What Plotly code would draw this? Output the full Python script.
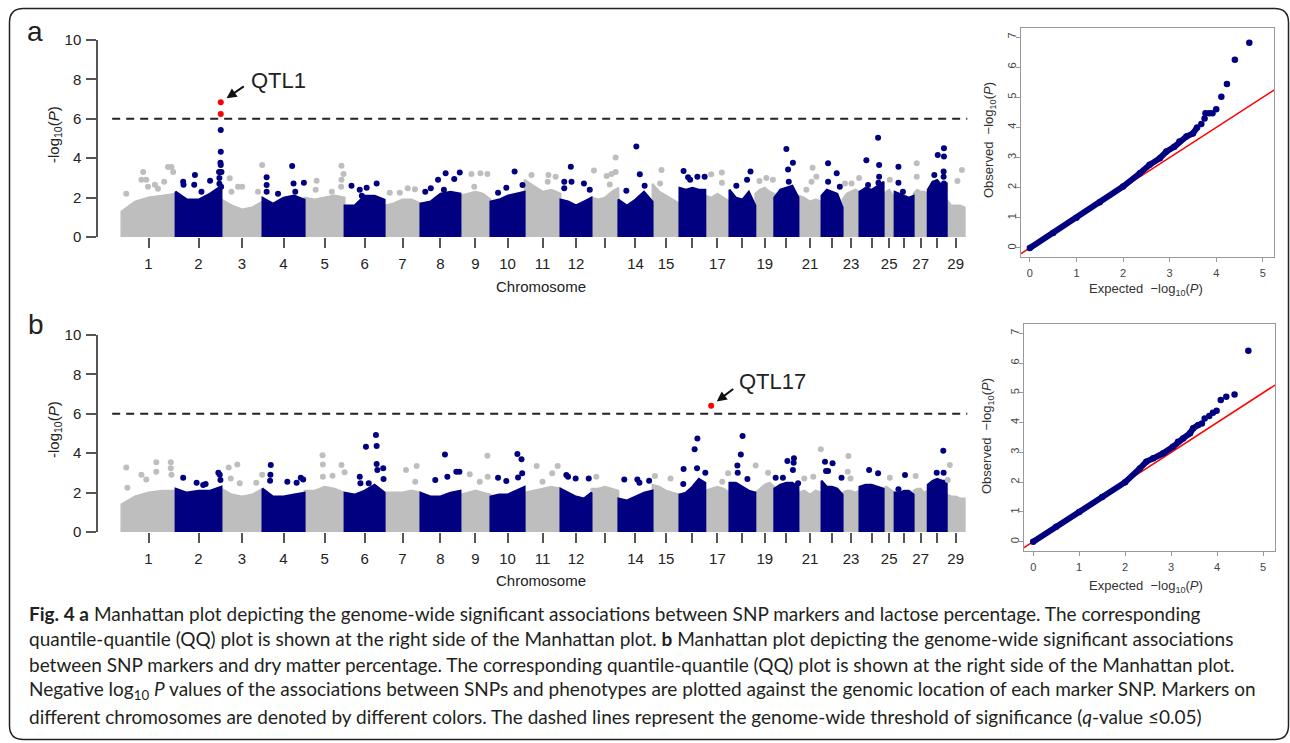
import plotly.graph_objects as go

W, H = 1290, 743
def fx(p): return p / W
def fy(p): return 1 - p / H

FONT = "Liberation Sans, Arial, sans-serif"
NAVY, GRAY, RED = "#000080", "#bebebe", "#ff0000"

# ---------------- data ----------------
chromosomes = list(range(1, 30))
chr_len = [157, 133, 119, 122, 116, 116, 104, 116, 87, 99, 104, 90, 78, 99, 78,
           75, 70, 75, 55, 70, 67, 61, 49, 70, 32, 55, 41, 55, 52]  # Mb
shown_labels = [1, 2, 3, 4, 5, 6, 7, 8, 9, 10, 11, 12, 14, 15, 17, 19, 21, 23, 25, 27, 29]
THRESHOLD = 6

# dense SNP cloud: upper envelope of -log10(P) at 5 evenly spaced points per chromosome
A_env = [[1.3, 1.8, 2.0, 2.1, 2.2], [2.3, 1.9, 1.9, 2.2, 2.6], [1.9, 1.6, 1.4, 1.5, 1.8],
         [2.0, 1.7, 2.0, 2.1, 1.9], [2.0, 1.9, 2.0, 2.1, 2.0], [1.6, 1.6, 2.1, 2.1, 1.9],
         [1.6, 1.7, 1.9, 1.9, 1.7], [1.7, 1.8, 2.2, 2.3, 2.2], [2.1, 2.2, 2.3, 2.2, 1.9],
         [1.8, 1.9, 2.1, 2.2, 2.3], [2.9, 2.6, 2.3, 2.4, 2.2], [1.9, 1.8, 1.6, 1.8, 2.0],
         [2.0, 1.9, 2.0, 2.3, 2.5], [1.9, 1.6, 1.9, 2.3, 1.8], [2.7, 2.3, 2.1, 1.9, 1.7],
         [2.5, 2.4, 2.5, 2.4, 2.4], [2.1, 2.0, 2.2, 2.0, 1.8], [2.4, 2.0, 1.9, 2.3, 1.6],
         [2.2, 2.4, 2.5, 2.3, 2.2], [2.0, 2.4, 2.5, 2.6, 2.0], [2.1, 2.0, 1.8, 1.9, 1.8],
         [2.1, 2.4, 2.3, 2.2, 1.5], [1.9, 2.2, 2.3, 2.4, 2.3], [2.3, 2.5, 2.4, 2.6, 2.8],
         [2.1, 2.3, 2.4, 2.2, 2.0], [2.3, 2.2, 2.1, 2.0, 2.1], [2.2, 2.4, 2.3, 2.3, 2.2],
         [2.4, 2.8, 2.9, 2.6, 2.7], [1.9, 1.6, 1.6, 1.6, 1.5]]
B_env = [[1.4, 1.8, 2.0, 2.1, 2.1], [2.2, 2.0, 2.1, 2.1, 2.3], [2.2, 1.9, 1.8, 1.9, 2.2],
         [2.2, 1.8, 1.8, 1.9, 2.0], [2.1, 2.1, 2.3, 2.2, 2.0], [2.0, 1.9, 2.1, 2.4, 2.0],
         [2.0, 2.0, 2.0, 2.1, 2.0], [2.0, 1.8, 1.8, 2.0, 2.1], [1.9, 2.0, 2.1, 2.0, 1.9],
         [1.8, 1.9, 1.9, 2.1, 2.3], [2.0, 2.1, 2.2, 2.3, 2.2], [2.2, 2.0, 1.8, 1.7, 2.0],
         [2.2, 2.2, 2.3, 2.2, 2.1], [1.7, 1.6, 1.8, 2.0, 2.1], [2.4, 2.3, 2.1, 2.0, 1.9],
         [1.9, 2.0, 2.3, 2.7, 2.5], [2.1, 2.2, 2.3, 2.2, 2.0], [2.5, 2.5, 2.3, 2.1, 2.0],
         [2.0, 2.2, 2.4, 2.5, 2.3], [2.2, 2.4, 2.5, 2.5, 2.3], [2.0, 2.1, 1.9, 2.1, 2.0],
         [2.6, 2.3, 2.3, 2.2, 1.9], [2.0, 2.1, 2.1, 2.0, 2.1], [2.3, 2.4, 2.4, 2.3, 2.2],
         [2.2, 2.3, 2.2, 2.1, 2.0], [2.0, 2.0, 2.1, 2.1, 1.9], [2.1, 2.2, 2.2, 2.0, 2.1],
         [2.4, 2.6, 2.7, 2.6, 2.6], [1.9, 1.8, 1.8, 1.7, 1.7]]

# individual SNPs above the cloud: (chromosome, position Mb, -log10 P)
A_hits = [(1, 14, 2.2), (1, 58, 2.9), (1, 63, 3.3), (1, 72, 2.9), (1, 77, 2.55), (1, 97, 2.65), (1, 106, 2.45),
          (1, 124, 2.8), (1, 135, 3.55), (1, 145, 3.55), (1, 150, 3.3),
          (2, 22, 2.8), (2, 23, 2.65), (2, 54, 2.65), (2, 56, 3.15), (2, 75, 2.3), (2, 100, 2.85), (2, 127, 2.7),
          (2, 129, 3.3), (2, 131, 5.43), (2, 131, 4.33), (2, 130, 3.77), (2, 131, 3.65), (2, 133, 3.3),
          (2, 126, 3.3), (2, 127, 3.0), (2, 132, 2.55),
          (3, 24, 2.98), (3, 29, 2.3), (3, 48, 2.55), (3, 60, 2.55), (3, 106, 2.3), (3, 118, 3.65),
          (4, 12, 3.03), (4, 12, 2.64), (4, 12, 2.3), (4, 45, 2.2), (4, 86, 3.6), (4, 90, 2.72), (4, 95, 2.3), (4, 120, 2.76),
          (5, 32, 2.4), (5, 35, 2.86), (5, 79, 2.3), (5, 106, 2.55), (5, 107, 2.9), (5, 107, 3.62), (5, 113, 3.2),
          (6, 20, 2.6), (6, 44, 2.4), (6, 50, 2.1), (6, 64, 2.5), (6, 93, 2.72),
          (7, 15, 2.25), (7, 44, 2.25), (7, 67, 2.47), (7, 88, 2.42),
          (8, 14, 2.3), (8, 30, 2.47), (8, 51, 2.9), (8, 68, 2.4), (8, 73, 3.23), (8, 98, 2.94), (8, 114, 3.28),
          (9, 32, 3.2), (9, 40, 2.55), (9, 58, 3.23), (9, 78, 3.2),
          (10, 22, 2.25), (10, 46, 2.5), (10, 70, 3.32), (10, 93, 2.64),
          (11, 20, 3.15), (11, 67, 2.8), (11, 69, 3.15), (11, 90, 3.06),
          (12, 11, 2.8), (12, 11, 2.47), (12, 30, 3.57), (12, 32, 2.8), (12, 68, 2.72), (12, 85, 2.4),
          (13, 7, 3.37), (13, 44, 3.1), (13, 53, 2.67), (13, 58, 3.2), (13, 70, 3.3), (13, 70, 4.03),
          (14, 23, 2.35), (14, 52, 4.59), (14, 62, 3.18), (14, 76, 2.6),
          (15, 22, 2.72), (15, 26, 3.4),
          (16, 12, 3.35), (16, 25, 3.03), (16, 31, 2.9), (16, 52, 3.06), (16, 73, 3.06),
          (17, 17, 3.18), (17, 48, 3.27), (17, 48, 2.76),
          (18, 20, 2.6), (18, 51, 2.9), (18, 61, 3.32),
          (19, 12, 2.84), (19, 32, 3.0), (19, 51, 2.9),
          (20, 35, 4.47), (20, 40, 3.43), (20, 42, 2.8), (20, 54, 3.77),
          (21, 23, 2.4), (21, 41, 3.52), (21, 38, 2.8), (21, 52, 3.06),
          (22, 19, 3.74), (22, 19, 2.8), (22, 44, 3.23), (22, 53, 2.55),
          (23, 7, 2.72), (23, 26, 2.72), (23, 48, 3.0),
          (24, 20, 3.9), (24, 25, 2.64), (24, 54, 5.04), (24, 57, 3.65), (24, 57, 3.06), (24, 55, 2.76),
          (25, 18, 2.9),
          (26, 11, 3.57), (26, 11, 2.76), (26, 24, 2.3),
          (27, 9, 3.74), (27, 9, 3.06),
          (28, 19, 3.15), (28, 29, 4.16), (28, 47, 4.5), (28, 47, 4.08), (28, 46, 3.32), (28, 46, 3.06), (28, 47, 2.72),
          (29, 31, 2.84), (29, 44, 3.4)]
A_sig = [(2, 131, 6.84), (2, 131, 6.24)]

B_hits = [(1, 14, 3.27), (1, 17, 2.25), (1, 58, 2.9), (1, 72, 2.67), (1, 101, 3.54), (1, 101, 3.06),
          (1, 143, 3.54), (1, 143, 3.23), (1, 145, 2.9),
          (2, 22, 2.76), (2, 61, 2.5), (2, 80, 2.39), (2, 87, 2.44), (2, 124, 3.01), (2, 128, 2.9), (2, 130, 2.64),
          (3, 21, 3.27), (3, 27, 2.72), (3, 46, 3.43), (3, 53, 2.47), (3, 101, 2.5), (3, 118, 2.9),
          (4, 22, 2.6), (4, 23, 2.9), (4, 24, 3.4), (4, 72, 2.55), (4, 99, 2.5), (4, 111, 2.76), (4, 118, 2.67),
          (5, 52, 3.9), (5, 53, 3.43), (5, 53, 2.8), (5, 81, 2.86), (5, 107, 3.4), (5, 116, 3.03),
          (6, 44, 2.8), (6, 46, 2.47), (6, 62, 4.33), (6, 70, 2.47), (6, 91, 4.92), (6, 93, 4.37), (6, 93, 3.45),
          (6, 95, 3.15), (6, 112, 3.23), (6, 113, 2.69),
          (7, 62, 3.15), (7, 89, 2.55), (7, 93, 3.35),
          (8, 43, 2.64), (8, 71, 3.94), (8, 78, 2.81), (8, 104, 3.06), (8, 113, 3.06),
          (9, 27, 2.93), (9, 56, 2.55), (9, 78, 3.87), (9, 79, 2.8),
          (10, 22, 2.76), (10, 46, 2.59), (10, 78, 3.96), (10, 80, 2.77), (10, 90, 3.69), (10, 92, 2.98),
          (11, 35, 3.35), (11, 52, 2.55), (11, 80, 2.98), (11, 96, 3.35),
          (12, 17, 2.89), (12, 22, 2.81), (12, 44, 2.72), (12, 82, 2.72),
          (13, 14, 2.81),
          (14, 17, 2.67), (14, 55, 2.67), (14, 61, 2.5), (14, 89, 2.6),
          (15, 7, 2.84), (15, 52, 2.72),
          (16, 11, 2.44), (16, 12, 3.2), (16, 44, 4.2), (16, 51, 3.23), (16, 52, 4.75), (16, 75, 3.01),
          (17, 49, 2.55), (17, 66, 2.98),
          (18, 23, 3.37), (18, 24, 3.01), (18, 33, 3.94), (18, 38, 4.87), (18, 52, 2.69),
          (19, 1, 3.37), (19, 37, 3.01),
          (20, 4, 2.76), (20, 25, 2.76), (20, 38, 3.6), (20, 54, 3.15), (20, 56, 3.52), (20, 57, 3.74), (20, 69, 2.47),
          (21, 17, 2.72), (21, 43, 2.81), (21, 65, 4.2),
          (22, 10, 3.57), (22, 13, 3.1), (22, 19, 3.1), (22, 32, 3.49), (22, 58, 2.76),
          (23, 15, 3.06), (23, 17, 3.86), (23, 23, 2.72),
          (24, 28, 3.15), (24, 54, 2.98),
          (25, 18, 2.76),
          (26, 30, 2.89), (26, 11, 2.17),
          (27, 6, 2.84),
          (28, 26, 3.01), (28, 45, 4.13), (28, 46, 3.01),
          (29, 3, 2.64), (29, 9, 3.4)]
B_sig = [(17, 17, 6.41)]

# QQ plots (expected vs observed -log10 P)
QA_exp = [0.0, 0.5, 1.0, 1.5, 2.0, 2.36, 2.57, 2.79, 2.93, 3.1, 3.21, 3.36, 3.5, 3.59, 3.68,
          3.75, 3.77, 3.85, 3.92, 4.0, 4.11, 4.23, 4.40, 4.71]
QA_obs = [0.0, 0.5, 1.0, 1.52, 2.04, 2.48, 2.76, 2.98, 3.2, 3.36, 3.53, 3.7, 3.8, 4.0, 4.11,
          4.3, 4.47, 4.47, 4.47, 4.60, 5.02, 5.44, 6.25, 6.81]
QB_exp = [0.0, 0.5, 1.0, 1.5, 2.0, 2.32, 2.46, 2.61, 2.83, 3.04, 3.15, 3.26, 3.41, 3.48, 3.59,
          3.67, 3.73, 3.83, 3.91, 3.99, 4.08, 4.2, 4.38, 4.68]
QB_obs = [0.0, 0.5, 1.0, 1.5, 2.0, 2.46, 2.69, 2.8, 2.97, 3.19, 3.36, 3.47, 3.64, 3.81, 3.92,
          3.97, 4.14, 4.22, 4.33, 4.40, 4.76, 4.87, 4.94, 6.41]

caption_lines = [
    "<b>Fig. 4 a</b> Manhattan plot depicting the genome-wide significant associations between SNP markers and lactose percentage. The corresponding",
    "quantile-quantile (QQ) plot is shown at the right side of the Manhattan plot. <b>b</b> Manhattan plot depicting the genome-wide significant associations",
    "between SNP markers and dry matter percentage. The corresponding quantile-quantile (QQ) plot is shown at the right side of the Manhattan plot.",
    "Negative log<sub>10</sub> <i>P</i> values of the associations between SNPs and phenotypes are plotted against the genomic location of each marker SNP. Markers on",
    "different chromosomes are denoted by different colors. The dashed lines represent the genome-wide threshold of significance (<i>q</i>-value ≤0.05)",
]

# ---------------- figure ----------------
offs = []
acc = 0
for L in chr_len:
    offs.append(acc)
    acc += L
total = acc
mids = [o + L / 2 for o, L in zip(offs, chr_len)]
MX_RANGE = [-68, total + 59]

fig = go.Figure()


def chrom_color(c):
    return GRAY if c % 2 == 1 else NAVY


def manhattan(xa, ya, env, hits, sig):
    for col in (GRAY, NAVY):
        xs, ys = [], []
        for c, o, L, h in zip(chromosomes, offs, chr_len, env):
            if chrom_color(c) != col:
                continue
            n = len(h)
            px = [o + L * k / (n - 1) for k in range(n)]
            xs += [o] + px + [o + L, None]
            ys += [0] + list(h) + [0, None]
        fig.add_trace(go.Scatter(x=xs, y=ys, mode="lines", fill="toself", fillcolor=col,
                                 line=dict(color=col, width=2), xaxis=xa, yaxis=ya,
                                 hoverinfo="skip", showlegend=False))
    for col in (GRAY, NAVY):
        pts = [(offs[c - 1] + p, v) for c, p, v in hits if chrom_color(c) == col]
        fig.add_trace(go.Scatter(x=[p[0] for p in pts], y=[p[1] for p in pts], mode="markers",
                                 marker=dict(color=col, size=6, line=dict(width=0)),
                                 xaxis=xa, yaxis=ya, showlegend=False, cliponaxis=False))
    fig.add_trace(go.Scatter(x=[offs[c - 1] + p for c, p, v in sig], y=[v for c, p, v in sig],
                             mode="markers", marker=dict(color=RED, size=6, line=dict(width=0)),
                             xaxis=xa, yaxis=ya, showlegend=False, cliponaxis=False))
    span = MX_RANGE[1] - MX_RANGE[0]
    fig.add_shape(type="line", xref=xa, yref=ya,
                  x0=MX_RANGE[0] + 0.016 * span, x1=MX_RANGE[1] - 0.02 * span,
                  y0=THRESHOLD, y1=THRESHOLD, line=dict(color="#222", width=2, dash="8px,6px"))


def qq(xa, ya, ex, ob, xr):
    fig.add_trace(go.Scatter(x=xr, y=xr, mode="lines", line=dict(color=RED, width=1.5),
                             xaxis=xa, yaxis=ya, showlegend=False))
    dense = [i for i, e in enumerate(ex) if e <= 3.6]
    fig.add_trace(go.Scatter(x=[ex[i] for i in dense], y=[ob[i] for i in dense], mode="lines",
                             line=dict(color=NAVY, width=6), xaxis=xa, yaxis=ya, showlegend=False))
    fig.add_trace(go.Scatter(x=ex, y=ob, mode="markers", marker=dict(color=NAVY, size=6.5, line=dict(width=0)),
                             xaxis=xa, yaxis=ya, showlegend=False))


manhattan("x", "y", A_env, A_hits, A_sig)
manhattan("x3", "y3", B_env, B_hits, B_sig)
QA_XR = [-0.19, 5.24]
QB_XR = [-0.2, 5.26]
qq("x2", "y2", QA_exp, QA_obs, QA_XR)
qq("x4", "y4", QB_exp, QB_obs, QB_XR)

lab_vals = [m for c, m in zip(chromosomes, mids) if c in shown_labels]
lab_text = [str(c) for c in chromosomes if c in shown_labels]
minor_vals = [m for c, m in zip(chromosomes, mids) if c not in shown_labels]
mx = dict(range=MX_RANGE, tickmode="array", tickvals=lab_vals, ticktext=lab_text, ticks="outside",
          ticklen=10, tickwidth=1.5, tickcolor="#555", showline=False, showgrid=False, zeroline=False,
          automargin=False, tickfont=dict(size=15, color="#222", family=FONT), ticklabelstandoff=3,
          minor=dict(tickmode="array", tickvals=minor_vals, ticks="outside", ticklen=10, tickwidth=1.5,
                     tickcolor="#555", showgrid=False))
my = dict(range=[0, 10], tickvals=[0, 2, 4, 6, 8, 10], ticks="outside", ticklen=10, tickwidth=1.5,
          tickcolor="#555", showline=True, linecolor="#555", linewidth=1.5, showgrid=False, zeroline=False,
          automargin=False, tickfont=dict(size=15, color="#222", family=FONT), ticklabelstandoff=2)
qx = dict(tickvals=[0, 1, 2, 3, 4, 5], ticks="outside", ticklen=4, tickcolor="#999", showline=True,
          mirror=True, linecolor="#999", linewidth=1, showgrid=False, zeroline=False, automargin=False,
          tickfont=dict(size=11, color="#444", family=FONT), ticklabelstandoff=2)
qy = dict(tickvals=[0, 1, 2, 3, 4, 5, 6, 7], ticks="outside", ticklen=4, tickcolor="#999", showline=True,
          mirror=True, linecolor="#999", linewidth=1, showgrid=False, zeroline=False, tickangle=-90,
          automargin=False, tickfont=dict(size=11, color="#444", family=FONT), ticklabelstandoff=-4)

fig.update_layout(
    width=W, height=H, margin=dict(l=0, r=0, t=0, b=0, pad=0, autoexpand=False),
    paper_bgcolor="white", plot_bgcolor="rgba(0,0,0,0)", showlegend=False,
    font=dict(family=FONT, color="#222"),
    xaxis=dict(mx, domain=[fx(98), fx(985)], anchor="y"),
    yaxis=dict(my, domain=[fy(237), fy(40)], anchor="x"),
    xaxis3=dict(mx, domain=[fx(98), fx(985)], anchor="y3"),
    yaxis3=dict(my, domain=[fy(532), fy(335)], anchor="x3"),
    xaxis2=dict(qx, domain=[fx(1021), fx(1274)], range=QA_XR, anchor="y2"),
    yaxis2=dict(qy, domain=[fy(257), fy(28)], range=[-0.3, 7.3], anchor="x2"),
    xaxis4=dict(qx, domain=[fx(1024), fx(1275)], range=QB_XR, anchor="y4"),
    yaxis4=dict(qy, domain=[fy(551), fy(324)], range=[-0.31, 7.31], anchor="x4"),
)

ann = []
def txt(x, y, s, size, **kw):
    d = dict(x=fx(x), y=fy(y), xref="paper", yref="paper", text=s, showarrow=False,
             xanchor="center", yanchor="middle",
             font=dict(size=size, family=kw.pop("family", FONT), color=kw.pop("color", "#222")))
    d.update(kw)
    ann.append(d)

txt(35, 31, "a", 28)
txt(36, 324, "b", 28)
for yc in (135, 430):
    txt(54, yc, "-log<sub>10</sub>(<i>P</i>)", 15, textangle=-90)
txt(541, 287, "Chromosome", 15)
txt(541, 580, "Chromosome", 15)
txt(989, 140, "Observed  −log<sub>10</sub>(<i>P</i>)", 13, textangle=-90, color="#333")
txt(988, 436, "Observed  −log<sub>10</sub>(<i>P</i>)", 13, textangle=-90, color="#333")
txt(1146, 289, "Expected  −log<sub>10</sub>(<i>P</i>)", 13, color="#333")
txt(1146, 586, "Expected  −log<sub>10</sub>(<i>P</i>)", 13, color="#333")
txt(249, 80, "QTL1", 22, xanchor="left")
txt(737, 381, "QTL17", 22, xanchor="left")

for (c, p, v), xa, ya, axo, ayo in ((A_sig[0], "x", "y", 26, -18), (B_sig[0], "x3", "y3", 25, -19)):
    ann.append(dict(x=offs[c - 1] + p, y=v, xref=xa, yref=ya, text=" ", showarrow=True,
                    ax=axo, ay=ayo, arrowhead=2, arrowsize=1, arrowwidth=2, arrowcolor="#111", standoff=7))

for i, line in enumerate(caption_lines):
    txt(27, 613 + i * 25.8, line, 19, xanchor="left", family="Lato, Noto Sans, sans-serif", color="#231f20")

fig.update_layout(annotations=ann)

# outer rounded frame
L_, T_, R_, B_, r = 9.5, 8.5, 1288.5, 739.5, 14
path = (f"M {fx(L_+r)},{fy(T_)} L {fx(R_-r)},{fy(T_)} Q {fx(R_)},{fy(T_)} {fx(R_)},{fy(T_+r)} "
        f"L {fx(R_)},{fy(B_-r)} Q {fx(R_)},{fy(B_)} {fx(R_-r)},{fy(B_)} "
        f"L {fx(L_+r)},{fy(B_)} Q {fx(L_)},{fy(B_)} {fx(L_)},{fy(B_-r)} "
        f"L {fx(L_)},{fy(T_+r)} Q {fx(L_)},{fy(T_)} {fx(L_+r)},{fy(T_)} Z")
fig.add_shape(type="path", xref="paper", yref="paper", path=path, line=dict(color="#222", width=1.5))

fig.write_html("out.html", config={"displayModeBar": False},
               post_script="document.body.style.margin='0px';document.body.style.overflow='hidden';")
